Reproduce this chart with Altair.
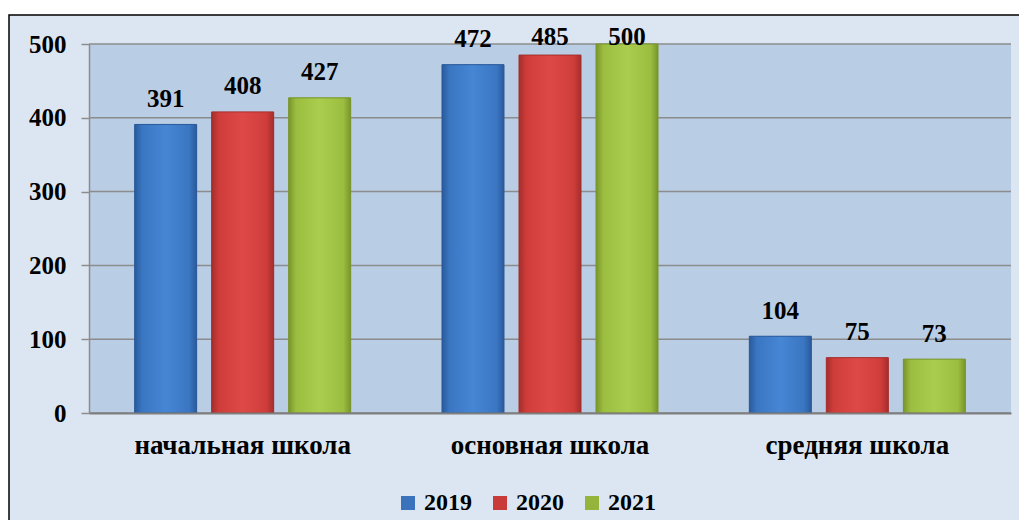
import altair as alt
import pandas as pd

categories = ["начальная школа", "основная школа", "средняя школа"]
years = ["2019", "2020", "2021"]
v2019 = [391, 472, 104]
v2020 = [408, 485, 75]
v2021 = [427, 500, 73]
y_ticks = [0, 100, 200, 300, 400, 500]

flat_colors = ["#3A72BC", "#C93B39", "#94B43B"]
grad_colors = {
    "2019": ("#2A5A9A", "#3A76C2", "#4686D4"),
    "2020": ("#A52E2C", "#CF3D3B", "#DE4947"),
    "2021": ("#78952B", "#9CBE40", "#ABCD4E"),
}

rows = []
for yr, vals in zip(years, [v2019, v2020, v2021]):
    for c, v in zip(categories, vals):
        rows.append({"cat": c, "year": yr, "value": v})
df = pd.DataFrame(rows)

FONT = "Liberation Serif"
W, H = 922, 369

x_enc = alt.X("cat:N", sort=categories,
              scale=alt.Scale(paddingInner=0, paddingOuter=0),
              axis=alt.Axis(title=None, labelAngle=0, ticks=False, labelPadding=19,
                            labelFont=FONT, labelFontSize=27, labelFontWeight="bold",
                            labelColor="black", domainColor="#7F7F7F", domainWidth=2,
                            labelLimit=0, grid=False, zindex=1))
xo_enc = alt.XOffset("year:N", sort=years,
                     scale=alt.Scale(domain=years, paddingInner=0.195, paddingOuter=0.593))
y_enc = alt.Y("value:Q",
              scale=alt.Scale(domain=[0, 500], nice=False),
              axis=alt.Axis(title=None, values=y_ticks, grid=False, tickSize=8,
                            tickColor="#8C8C8C", tickWidth=1.5, domainColor="#8C8C8C",
                            domainWidth=1.5, labelPadding=15, labelFont=FONT,
                            labelFontSize=25, labelFontWeight="bold", labelColor="black",
                            zindex=1))

one = alt.Data(values=[{"k": 1}])

frame = alt.Chart(one).mark_rect(fill="#DCE6F2", stroke="black", strokeWidth=1.5).encode(
    x=alt.value(-80), x2=alt.value(1100), y=alt.value(-29), y2=alt.value(700))
plotbg = alt.Chart(one).mark_rect(fill="#B9CDE5").encode(
    x=alt.value(0), x2=alt.value(W), y=alt.value(0), y2=alt.value(H))

grid = alt.Chart(pd.DataFrame({"t": y_ticks})).mark_rule(color="#8C8C8C", strokeWidth=1.5).encode(
    y=alt.Y("t:Q", scale=alt.Scale(domain=[0, 500], nice=False)),
    x=alt.value(0), x2=alt.value(W))

base = alt.Chart(df).mark_bar().encode(
    x=x_enc, xOffset=xo_enc, y=y_enc,
    color=alt.Color("year:N", sort=years,
                    scale=alt.Scale(domain=years, range=flat_colors),
                    legend=alt.Legend(title=None, orient="none", direction="horizontal",
                                      legendX=307, legendY=447, symbolType="square",
                                      symbolSize=196, symbolStrokeWidth=0, labelFont=FONT,
                                      labelFontSize=24, labelFontWeight="bold",
                                      labelColor="black", labelOffset=4, columnPadding=16,
                                      padding=0, symbolOpacity=1, zindex=1)))

grad_layers = []
for yr in years:
    e, m, l = grad_colors[yr]
    g = alt.Gradient(gradient="linear", x1=0, x2=1, y1=0, y2=0, stops=[
        alt.GradientStop(color=e, offset=0),
        alt.GradientStop(color=m, offset=0.12),
        alt.GradientStop(color=l, offset=0.5),
        alt.GradientStop(color=m, offset=0.88),
        alt.GradientStop(color=e, offset=1),
    ])
    grad_layers.append(
        alt.Chart(df).transform_filter(alt.datum.year == yr).mark_bar(fill=g, stroke=e, strokeWidth=1).encode(
            x=alt.X("cat:N", sort=categories), xOffset=xo_enc, y=alt.Y("value:Q")))

labels = alt.Chart(df).transform_calculate(pos="min(datum.value, 475)").mark_text(
    font=FONT, fontSize=25, fontWeight="bold", color="black", baseline="alphabetic", dy=-17.5
).encode(x=alt.X("cat:N", sort=categories), xOffset=xo_enc, y=alt.Y("pos:Q"),
         text=alt.Text("value:Q"))

chart = alt.layer(frame, plotbg, grid, base, *grad_layers, labels).properties(
    width=W, height=H,
    autosize=alt.AutoSizeParams(type="none"),
    padding={"left": 81, "top": 36, "right": 8, "bottom": 107},
    background="white",
).configure_view(stroke=None)

chart.save("out.html", embed_options={"renderer": "svg", "actions": False})
